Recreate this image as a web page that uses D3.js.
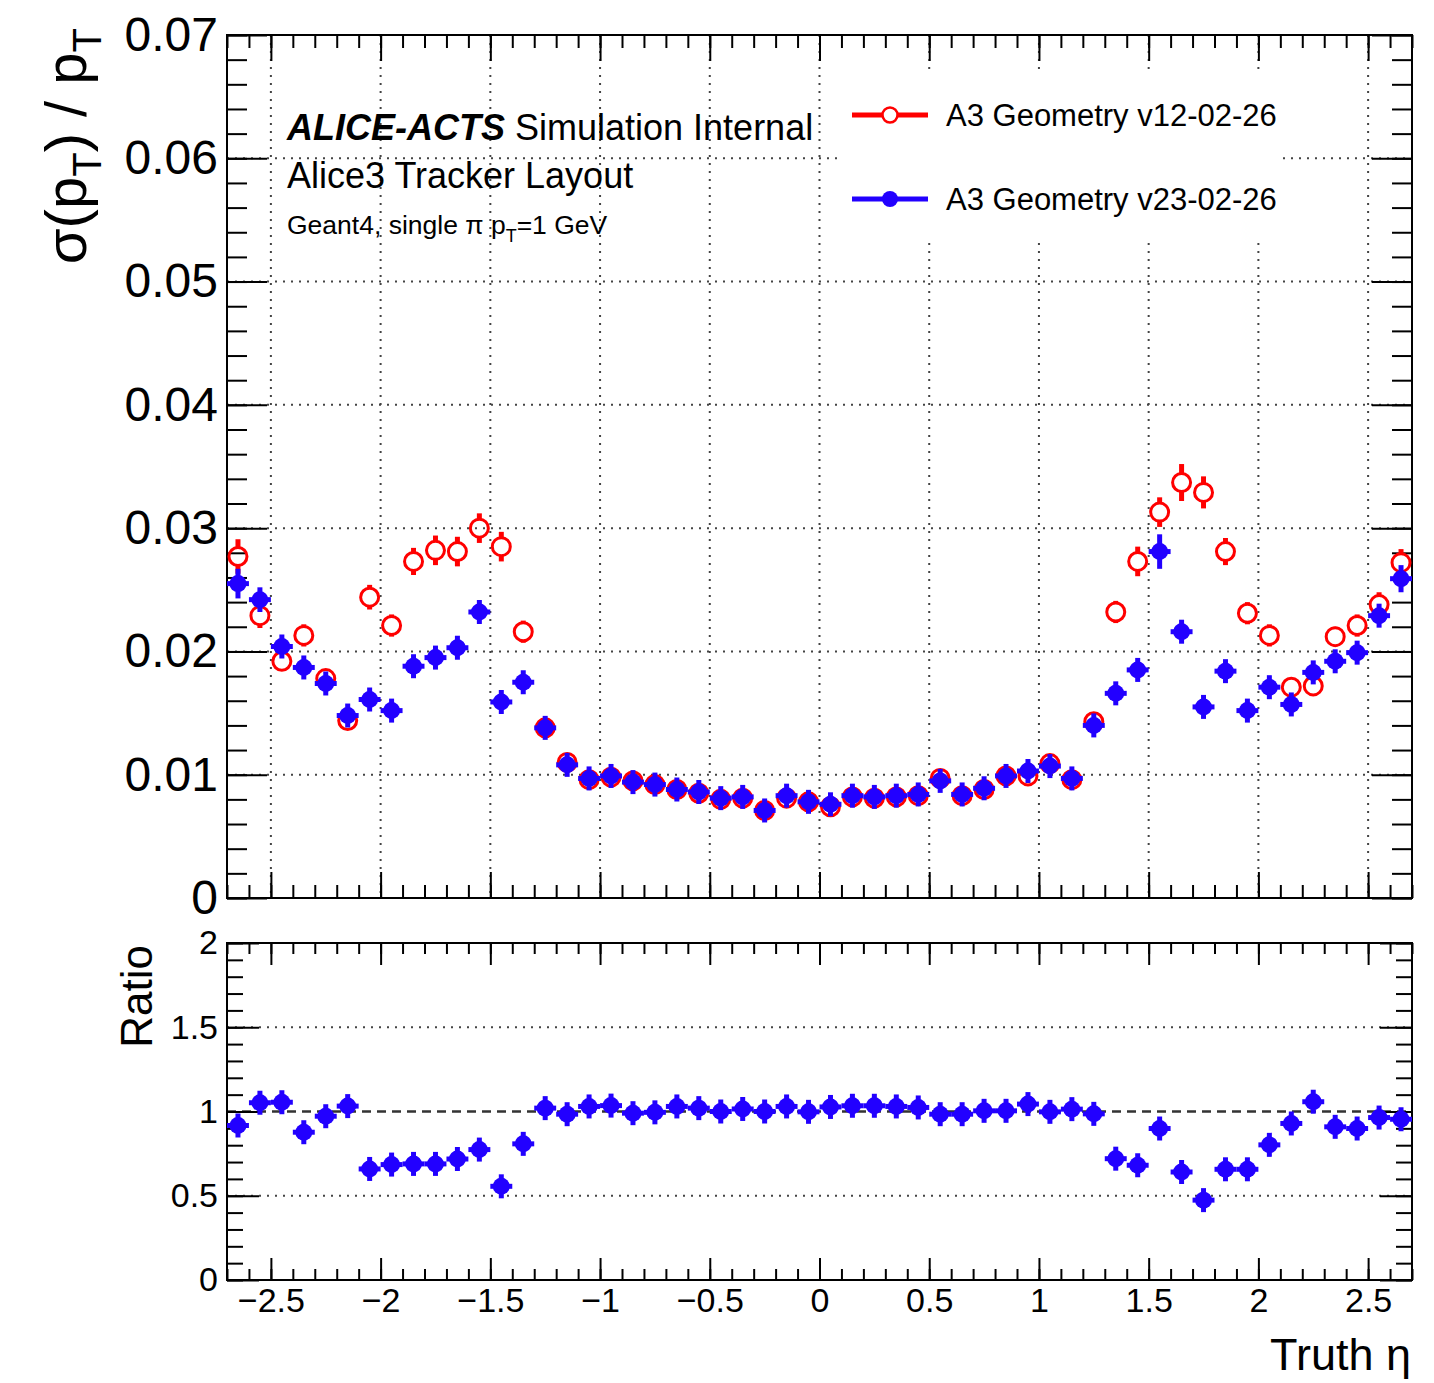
<!DOCTYPE html>
<html>
<head>
<meta charset="utf-8">
<title>pT resolution vs truth eta</title>
<style>
  body { margin: 0; background: #fff; }
  text { font-family: "Liberation Sans", Arial, Helvetica, sans-serif; fill: #000; }
  .frame { fill: none; stroke: #000; stroke-width: 2px; }
  .grid line { stroke: #444; stroke-width: 2px; stroke-dasharray: 2 6; }
  .axis path { display: none; }
  .axis line { stroke: #000; stroke-width: 2px; }
</style>
</head>
<body>
<script src="https://cdn.jsdelivr.net/npm/d3@7"></script>
<script>
const width = 1434;
const height = 1383;

// truth eta bin centres
const etaBins = [
  -2.65, -2.55, -2.45, -2.35, -2.25, -2.15, -2.05, -1.95, -1.85, -1.75,
  -1.65, -1.55, -1.45, -1.35, -1.25, -1.15, -1.05, -0.95, -0.85, -0.75,
  -0.65, -0.55, -0.45, -0.35, -0.25, -0.15, -0.05, 0.05, 0.15, 0.25,
  0.35, 0.45, 0.55, 0.65, 0.75, 0.85, 0.95, 1.05, 1.15, 1.25,
  1.35, 1.45, 1.55, 1.65, 1.75, 1.85, 1.95, 2.05, 2.15, 2.25,
  2.35, 2.45, 2.55, 2.65
];

// A3 Geometry v12-02-26 (red, open circles)
const resV12 = [
  0.0277, 0.0229, 0.0192, 0.0213, 0.0178, 0.0144, 0.0244, 0.0221, 0.0273, 0.0282,
  0.0281, 0.0300, 0.0285, 0.0216, 0.0138, 0.0110, 0.0096, 0.0098, 0.0095, 0.0092,
  0.0088, 0.0085, 0.0080, 0.0081, 0.0071, 0.0081, 0.0078, 0.0074, 0.0082, 0.0081,
  0.0082, 0.0083, 0.0097, 0.0083, 0.0088, 0.0099, 0.0099, 0.0109, 0.0096, 0.0143,
  0.0232, 0.0273, 0.0313, 0.0337, 0.0329, 0.0281, 0.0231, 0.0213, 0.0171, 0.0172,
  0.0212, 0.0221, 0.0238, 0.0272
];
const errV12 = [
  0.0014, 0.0010, 0.0007, 0.0009, 0.0006, 0.0006, 0.0010, 0.0009, 0.0011, 0.0012,
  0.0012, 0.0012, 0.0012, 0.0009, 0.0005, 0.0004, 0.0004, 0.0004, 0.0004, 0.0004,
  0.0004, 0.0004, 0.0004, 0.0004, 0.0004, 0.0004, 0.0004, 0.0004, 0.0004, 0.0004,
  0.0004, 0.0004, 0.0004, 0.0004, 0.0004, 0.0004, 0.0004, 0.0004, 0.0004, 0.0006,
  0.0009, 0.0012, 0.0012, 0.0015, 0.0013, 0.0011, 0.0009, 0.0009, 0.0007, 0.0007,
  0.0008, 0.0009, 0.0010, 0.0011
];

// A3 Geometry v23-02-26 (blue, full circles)
const resV23 = [
  0.0255, 0.0242, 0.0204, 0.0187, 0.0174, 0.0148, 0.0161, 0.0152, 0.0188, 0.0195,
  0.0203, 0.0232, 0.0159, 0.0175, 0.0138, 0.0108, 0.0097, 0.0099, 0.0094, 0.0092,
  0.0088, 0.0086, 0.0081, 0.0082, 0.0071, 0.0083, 0.0078, 0.0076, 0.0083, 0.0082,
  0.0083, 0.0084, 0.0095, 0.0084, 0.0089, 0.0099, 0.0103, 0.0107, 0.0097, 0.0140,
  0.0166, 0.0185, 0.0281, 0.0216, 0.0155, 0.0184, 0.0152, 0.0171, 0.0157, 0.0183,
  0.0192, 0.0199, 0.0229, 0.0259
];
const errV23 = [
  0.0012, 0.0010, 0.0007, 0.0006, 0.0006, 0.0005, 0.0005, 0.0005, 0.0009, 0.0009,
  0.0008, 0.0009, 0.0005, 0.0005, 0.0004, 0.0004, 0.0004, 0.0004, 0.0004, 0.0004,
  0.0004, 0.0004, 0.0004, 0.0004, 0.0004, 0.0004, 0.0004, 0.0004, 0.0004, 0.0004,
  0.0004, 0.0004, 0.0004, 0.0004, 0.0004, 0.0004, 0.0004, 0.0004, 0.0004, 0.0005,
  0.0006, 0.0006, 0.0014, 0.0007, 0.0005, 0.0006, 0.0005, 0.0006, 0.0006, 0.0007,
  0.0009, 0.0007, 0.0008, 0.0011
];

// ratio v23 / v12
const ratio = [
  0.917, 1.052, 1.055, 0.877, 0.972, 1.032, 0.659, 0.685, 0.689, 0.689,
  0.718, 0.774, 0.556, 0.808, 1.020, 0.984, 1.030, 1.035, 0.990, 0.995,
  1.030, 1.020, 1.000, 1.015, 1.000, 1.030, 0.998, 1.027, 1.034, 1.034,
  1.030, 1.024, 0.984, 0.984, 1.004, 1.004, 1.044, 0.998, 1.014, 0.986,
  0.720, 0.681, 0.899, 0.641, 0.474, 0.657, 0.657, 0.802, 0.929, 1.058,
  0.909, 0.899, 0.964, 0.954
];
const errRatio = [
  0.06, 0.06, 0.06, 0.05, 0.05, 0.06, 0.05, 0.05, 0.05, 0.05,
  0.05, 0.05, 0.04, 0.05, 0.05, 0.06, 0.05, 0.05, 0.05, 0.05,
  0.05, 0.05, 0.05, 0.05, 0.05, 0.06, 0.05, 0.05, 0.06, 0.05,
  0.05, 0.05, 0.05, 0.06, 0.05, 0.05, 0.05, 0.05, 0.05, 0.05,
  0.04, 0.04, 0.06, 0.04, 0.04, 0.04, 0.04, 0.05, 0.05, 0.06,
  0.06, 0.05, 0.06, 0.06
];

const xTicks = [-2.5, -2, -1.5, -1, -0.5, 0, 0.5, 1, 1.5, 2, 2.5];
const xTickLabels = ["\u22122.5", "\u22122", "\u22121.5", "\u22121", "\u22120.5", "0", "0.5", "1", "1.5", "2", "2.5"];
const yTicks = [0, 0.01, 0.02, 0.03, 0.04, 0.05, 0.06, 0.07];
const yTickLabels = ["0", "0.01", "0.02", "0.03", "0.04", "0.05", "0.06", "0.07"];
const rTicks = [0, 0.5, 1, 1.5, 2];
const rTickLabels = ["0", "0.5", "1", "1.5", "2"];

const seriesNames = ["A3 Geometry v12-02-26", "A3 Geometry v23-02-26"];
const red = "#ff0000";
const blue = "#2200ff";

const frameL = 227, frameR = 1412;
const upTop = 35, upBot = 898;
const loTop = 943, loBot = 1280;

const svg = d3.select("body").append("svg")
  .attr("width", width)
  .attr("height", height);

svg.append("rect").attr("width", width).attr("height", height).attr("fill", "#fff");

const x = d3.scaleLinear().domain([-2.7, 2.7]).range([frameL, frameR]);
const y = d3.scaleLinear().domain([0, 0.07]).range([upBot, upTop]);
const yr = d3.scaleLinear().domain([0, 2]).range([loBot, loTop]);

const xMinor = d3.range(-27, 28).map(i => i / 10);
const yMinor = d3.range(0, 36).map(i => i * 0.002);
const rMinor = d3.range(0, 21).map(i => i / 10);

// ---------- grids ----------
const grid = svg.append("g").attr("class", "grid");
grid.selectAll(".gx").data(xTicks).join("line")
  .attr("x1", d => x(d)).attr("x2", d => x(d))
  .attr("y1", upTop).attr("y2", upBot);
grid.selectAll(".gy").data(yTicks.slice(1, -1)).join("line")
  .attr("x1", frameL).attr("x2", frameR)
  .attr("y1", d => y(d)).attr("y2", d => y(d));

const rgrid = svg.append("g").attr("class", "grid");
rgrid.selectAll("line").data([0.5, 1.5]).join("line")
  .attr("x1", frameL).attr("x2", frameR)
  .attr("y1", d => yr(d)).attr("y2", d => yr(d));

// dashed line at ratio 1
svg.append("line")
  .attr("x1", frameL).attr("x2", frameR)
  .attr("y1", yr(1)).attr("y2", yr(1))
  .attr("stroke", "#333").attr("stroke-width", 2.5)
  .attr("stroke-dasharray", "9 6");

// ---------- axes (ticks inside on all sides) ----------
function styleAxis(g, size) {
  g.attr("class", "axis");
  g.selectAll("text")
    .attr("font-size", size)
    .attr("font-family", "'Liberation Sans', Arial, sans-serif")
    .attr("fill", "#000");
}

// upper pad
svg.append("g").attr("transform", `translate(0,${upBot})`)
  .call(d3.axisBottom(x).tickValues(xMinor).tickSize(-13).tickFormat(""))
  .call(styleAxis, 0);
svg.append("g").attr("transform", `translate(0,${upBot})`)
  .call(d3.axisBottom(x).tickValues(xTicks).tickSize(-26).tickFormat(""))
  .call(styleAxis, 0);
svg.append("g").attr("transform", `translate(0,${upTop})`)
  .call(d3.axisTop(x).tickValues(xMinor).tickSize(-13).tickFormat(""))
  .call(styleAxis, 0);
svg.append("g").attr("transform", `translate(0,${upTop})`)
  .call(d3.axisTop(x).tickValues(xTicks).tickSize(-26).tickFormat(""))
  .call(styleAxis, 0);

svg.append("g").attr("transform", `translate(${frameL},0)`)
  .call(d3.axisLeft(y).tickValues(yMinor).tickSize(-20).tickFormat(""))
  .call(styleAxis, 0);
svg.append("g").attr("transform", `translate(${frameL},0)`)
  .call(d3.axisLeft(y).tickValues(yTicks).tickSize(-40).tickPadding(9)
    .tickFormat((d, i) => yTickLabels[i]))
  .call(styleAxis, 48);
svg.append("g").attr("transform", `translate(${frameR},0)`)
  .call(d3.axisRight(y).tickValues(yMinor).tickSize(-20).tickFormat(""))
  .call(styleAxis, 0);
svg.append("g").attr("transform", `translate(${frameR},0)`)
  .call(d3.axisRight(y).tickValues(yTicks).tickSize(-40).tickFormat(""))
  .call(styleAxis, 0);

// lower pad
svg.append("g").attr("transform", `translate(0,${loBot})`)
  .call(d3.axisBottom(x).tickValues(xMinor).tickSize(-11).tickFormat(""))
  .call(styleAxis, 0);
svg.append("g").attr("transform", `translate(0,${loBot})`)
  .call(d3.axisBottom(x).tickValues(xTicks).tickSize(-22).tickPadding(8)
    .tickFormat((d, i) => xTickLabels[i]))
  .call(styleAxis, 34);
svg.append("g").attr("transform", `translate(0,${loTop})`)
  .call(d3.axisTop(x).tickValues(xMinor).tickSize(-11).tickFormat(""))
  .call(styleAxis, 0);
svg.append("g").attr("transform", `translate(0,${loTop})`)
  .call(d3.axisTop(x).tickValues(xTicks).tickSize(-22).tickFormat(""))
  .call(styleAxis, 0);

svg.append("g").attr("transform", `translate(${frameL},0)`)
  .call(d3.axisLeft(yr).tickValues(rMinor).tickSize(-16).tickFormat(""))
  .call(styleAxis, 0);
svg.append("g").attr("transform", `translate(${frameL},0)`)
  .call(d3.axisLeft(yr).tickValues(rTicks).tickSize(-32).tickPadding(9)
    .tickFormat((d, i) => rTickLabels[i]))
  .call(styleAxis, 34);
svg.append("g").attr("transform", `translate(${frameR},0)`)
  .call(d3.axisRight(yr).tickValues(rMinor).tickSize(-16).tickFormat(""))
  .call(styleAxis, 0);
svg.append("g").attr("transform", `translate(${frameR},0)`)
  .call(d3.axisRight(yr).tickValues(rTicks).tickSize(-32).tickFormat(""))
  .call(styleAxis, 0);

// frames
svg.append("rect").attr("class", "frame")
  .attr("x", frameL).attr("y", upTop).attr("width", frameR - frameL).attr("height", upBot - upTop);
svg.append("rect").attr("class", "frame")
  .attr("x", frameL).attr("y", loTop).attr("width", frameR - frameL).attr("height", loBot - loTop);

// ---------- data ----------
const rMark = 8.5;

function drawOpen(g, vals, errs, ys, color) {
  const pts = etaBins.map((e, i) => ({ e, v: vals[i], err: errs[i] }));
  const grp = g.append("g");
  pts.forEach(p => {
    const cx = x(p.e), cy = ys(p.v);
    const hi = ys(p.v + p.err), lo = ys(p.v - p.err);
    if (cy - hi > rMark) {
      grp.append("line").attr("x1", cx).attr("x2", cx).attr("y1", hi).attr("y2", cy - rMark)
        .attr("stroke", color).attr("stroke-width", 5);
      grp.append("line").attr("x1", cx).attr("x2", cx).attr("y1", cy + rMark).attr("y2", lo)
        .attr("stroke", color).attr("stroke-width", 5);
    }
    grp.append("circle").attr("cx", cx).attr("cy", cy).attr("r", rMark + 0.5)
      .attr("fill", "none").attr("stroke", color).attr("stroke-width", 3);
  });
}

function drawFull(g, vals, errs, ys, color) {
  const pts = etaBins.map((e, i) => ({ e, v: vals[i], err: errs[i] }));
  const grp = g.append("g");
  pts.forEach(p => {
    const cx = x(p.e), cy = ys(p.v);
    const up = Math.max(cy - ys(p.v + p.err), 12);
    const dn = Math.max(ys(p.v - p.err) - cy, 12);
    grp.append("line").attr("x1", cx).attr("x2", cx).attr("y1", cy - up).attr("y2", cy + dn)
      .attr("stroke", color).attr("stroke-width", 5);
    grp.append("line").attr("x1", x(p.e - 0.05)).attr("x2", x(p.e + 0.05)).attr("y1", cy).attr("y2", cy)
      .attr("stroke", color).attr("stroke-width", 5);
    grp.append("circle").attr("cx", cx).attr("cy", cy).attr("r", rMark).attr("fill", color);
  });
}

drawOpen(svg, resV12, errV12, y, red);
drawFull(svg, resV23, errV23, y, blue);
drawFull(svg, ratio, errRatio, yr, blue);

// ---------- legend ----------
svg.append("rect").attr("x", 838).attr("y", 72).attr("width", 444).attr("height", 166).attr("fill", "#fff");
const legRows = [115, 199];
seriesNames.forEach((name, i) => {
  const ly = legRows[i];
  const col = i === 0 ? red : blue;
  svg.append("line").attr("x1", 852).attr("x2", 928).attr("y1", ly).attr("y2", ly)
    .attr("stroke", col).attr("stroke-width", 5);
  if (i === 0) {
    svg.append("circle").attr("cx", 890).attr("cy", ly).attr("r", 7.5)
      .attr("fill", "#fff").attr("stroke", col).attr("stroke-width", 2.5);
  } else {
    svg.append("circle").attr("cx", 890).attr("cy", ly).attr("r", 8).attr("fill", col);
  }
  svg.append("text").attr("x", 946).attr("y", ly + 11)
    .attr("font-size", 31).text(name);
});

// ---------- labels ----------
const t1 = svg.append("text").attr("x", 287).attr("y", 140).attr("font-size", 36);
t1.append("tspan").attr("font-weight", "bold").attr("font-style", "italic").text("ALICE-ACTS");
t1.append("tspan").text(" Simulation Internal");

svg.append("text").attr("x", 287).attr("y", 188).attr("font-size", 36).text("Alice3 Tracker Layout");

const t3 = svg.append("text").attr("x", 287).attr("y", 234).attr("font-size", 26.5);
t3.append("tspan").text("Geant4, single \u03c0 p");
t3.append("tspan").attr("font-size", 18).attr("dy", 8).text("T");
t3.append("tspan").attr("dy", -8).text("=1 GeV");

// y title
const yt = svg.append("text")
  .attr("transform", "translate(86,28) rotate(-90)")
  .attr("text-anchor", "end")
  .attr("font-size", 58);
yt.append("tspan").text("\u03c3(p");
yt.append("tspan").attr("font-size", 40).attr("dy", 15).text("T");
yt.append("tspan").attr("dy", -15).text(") / p");
yt.append("tspan").attr("font-size", 40).attr("dy", 15).text("T");

svg.append("text")
  .attr("transform", "translate(152,945) rotate(-90)")
  .attr("text-anchor", "end")
  .attr("font-size", 44)
  .text("Ratio");

svg.append("text")
  .attr("x", 1411).attr("y", 1370)
  .attr("text-anchor", "end")
  .attr("font-size", 45)
  .text("Truth \u03b7");
</script>
</body>
</html>
